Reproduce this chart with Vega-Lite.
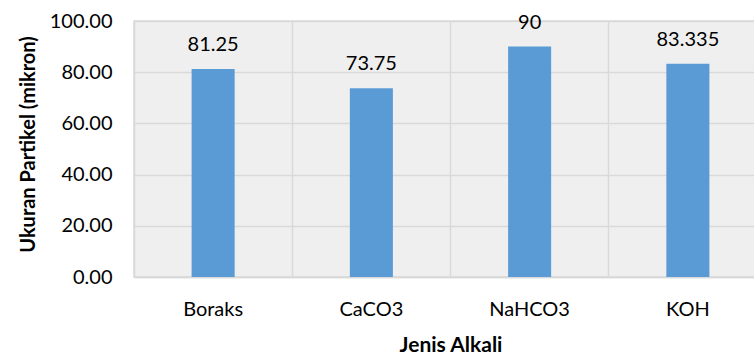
{
  "$schema": "https://vega.github.io/schema/vega-lite/v6.json",
  "autosize": {"type": "none"},
  "padding": {"left": 134, "top": 21, "right": 0, "bottom": 81},
  "width": 633,
  "height": 256,
  "background": "#ffffff",
  "config": {
    "view": {"fill": "#efefef", "stroke": "#d9d9d9", "strokeWidth": 1.5},
    "font": "Lato"
  },
  "data": {
    "values": [
      {"alkali": "Boraks", "ukuran": 81.25},
      {"alkali": "CaCO3", "ukuran": 73.75},
      {"alkali": "NaHCO3", "ukuran": 90},
      {"alkali": "KOH", "ukuran": 83.335}
    ]
  },
  "encoding": {
    "x": {
      "field": "alkali", "type": "nominal", "sort": null,
      "scale": {"paddingInner": 0, "paddingOuter": 0},
      "axis": {
        "title": "Jenis Alkali", "titleFontSize": 21, "titleFontWeight": "bold", "titleColor": "#000000", "titlePadding": 15,
        "labelAngle": 0, "labelFontSize": 20, "labelColor": "#000000", "labelPadding": 22,
        "ticks": false, "domainColor": "#d9d9d9", "domainWidth": 1.5,
        "grid": true, "gridColor": "#d9d9d9", "gridWidth": 1.5, "bandPosition": 0
      }
    },
    "y": {
      "field": "ukuran", "type": "quantitative",
      "scale": {"domain": [0, 100]},
      "axis": {
        "title": "Ukuran Partikel (mikron)", "titleFontSize": 20, "titleFontWeight": "bold", "titleColor": "#000000", "titlePadding": 11,
        "titleY": 123,
        "values": [0, 20, 40, 60, 80, 100], "format": ".2f",
        "labelFontSize": 20, "labelColor": "#000000", "labelPadding": 22,
        "ticks": false, "domain": false,
        "grid": true, "gridColor": "#d9d9d9", "gridWidth": 1.5
      }
    }
  },
  "layer": [
    {"mark": {"type": "bar", "color": "#5b9bd5", "width": {"band": 0.272}}},
    {
      "mark": {"type": "text", "dy": -18, "fontSize": 20, "color": "#000000", "baseline": "alphabetic"},
      "encoding": {"text": {"field": "ukuran", "type": "nominal"}}
    }
  ]
}
